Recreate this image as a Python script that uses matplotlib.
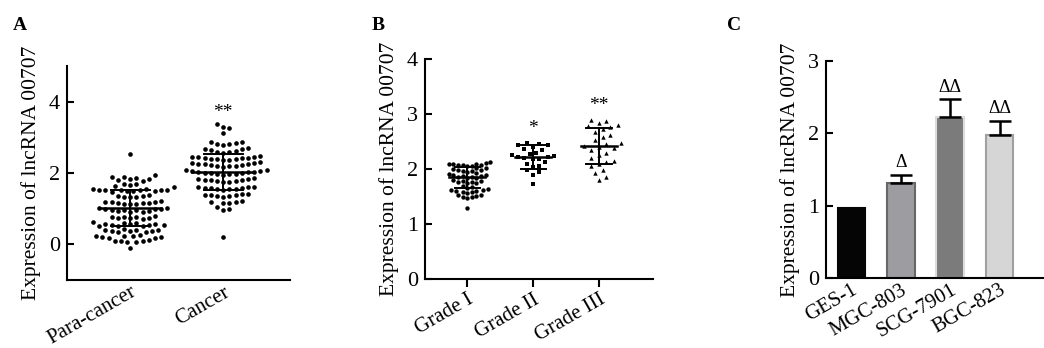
import numpy as np
import matplotlib
matplotlib.use("Agg")
import matplotlib.pyplot as plt

plt.rcParams["font.family"] = ["Liberation Serif", "DejaVu Serif"]

# ---- data ----
groups_a = ["Para-cancer", "Cancer"]
para = [2.54,
        1.93, 1.90, 1.88, 1.86, 1.84, 1.82, 1.80, 1.78,
        1.70, 1.68, 1.66, 1.64, 1.62,
        1.55, 1.54, 1.53, 1.53, 1.52, 1.52, 1.51, 1.51, 1.50, 1.50, 1.49, 1.48,
        1.38, 1.36, 1.35, 1.34, 1.33, 1.32,
        1.22, 1.20, 1.19, 1.18, 1.17, 1.16, 1.15, 1.14, 1.13, 1.12,
        1.02, 1.01, 1.00, 0.99, 0.98, 0.97, 0.96, 0.95, 0.94, 0.93, 0.92, 0.91,
        0.80, 0.78, 0.77, 0.76, 0.75, 0.74, 0.73, 0.72,
        0.62, 0.60, 0.59, 0.58, 0.57, 0.56, 0.55, 0.54, 0.53, 0.52, 0.51, 0.50,
        0.42, 0.41, 0.40, 0.39, 0.38, 0.37, 0.36, 0.35, 0.34,
        0.25, 0.24, 0.23, 0.22, 0.21, 0.20, 0.19, 0.18,
        0.12, 0.10, 0.09, 0.08, 0.07, 0.06,
        -0.09]
cancer = [3.37, 3.30, 3.25, 3.12,
          2.88, 2.86, 2.84, 2.82, 2.80, 2.78,
          2.70, 2.68, 2.66, 2.64, 2.62, 2.60, 2.58, 2.56,
          2.48, 2.46, 2.45, 2.44, 2.43, 2.42, 2.41, 2.40, 2.39, 2.38, 2.37, 2.36,
          2.30, 2.28, 2.27, 2.26, 2.25, 2.24, 2.23, 2.22, 2.21, 2.20, 2.19, 2.18,
          2.08, 2.07, 2.06, 2.05, 2.04, 2.03, 2.02, 2.01, 2.00, 1.99, 1.98, 1.97, 1.96, 1.95,
          1.85, 1.83, 1.82, 1.81, 1.80, 1.79, 1.78, 1.77, 1.76, 1.75,
          1.62, 1.61, 1.60, 1.59, 1.58, 1.57, 1.56, 1.55, 1.54, 1.53,
          1.42, 1.40, 1.39, 1.38, 1.37, 1.36, 1.35, 1.34,
          1.22, 1.20, 1.18, 1.16, 1.15,
          1.05, 0.98, 0.96,
          0.20]
mean_a = [1.01, 2.03]
sd_a = [0.50, 0.50]
sig_a = ["", "**"]

groups_b = ["Grade I", "Grade II", "Grade III"]
grade1 = [2.12, 2.11, 2.10, 2.10, 2.09, 2.08, 2.08, 2.07, 2.06, 2.05,
          2.02, 2.01, 2.00, 1.99, 1.98, 1.97, 1.96, 1.95,
          1.92, 1.91, 1.90, 1.89, 1.88, 1.87, 1.86, 1.85, 1.84, 1.83,
          1.80, 1.79, 1.78, 1.77, 1.76, 1.75, 1.74,
          1.70, 1.68, 1.66,
          1.63, 1.62, 1.61, 1.60, 1.60, 1.59, 1.58, 1.57,
          1.53, 1.52, 1.51, 1.50, 1.49, 1.48,
          1.30]
grade2 = [2.48, 2.46, 2.44, 2.43, 2.40, 2.37, 2.35, 2.30, 2.28, 2.26, 2.24, 2.22,
          2.21, 2.20, 2.19, 2.18, 2.12, 2.10, 2.06, 2.03, 1.98, 1.95, 1.90, 1.73]
grade3 = [2.90, 2.88, 2.84, 2.80, 2.78, 2.76, 2.72, 2.68, 2.62, 2.58, 2.52, 2.48,
          2.45, 2.42, 2.40, 2.38, 2.35, 2.30, 2.25, 2.20, 2.15, 2.12, 2.10, 2.05,
          1.98, 1.92, 1.85, 1.80]
mean_b = [1.85, 2.22, 2.42]
sd_b = [0.19, 0.22, 0.33]
sig_b = ["", "*", "**"]

cells = ["GES-1", "MGC-803", "SCG-7901", "BGC-823"]
cell_expr = [0.97, 1.32, 2.23, 1.98]
cell_err = [0.0, 0.11, 0.24, 0.19]
cell_sig = ["", "\u0394", "\u0394\u0394", "\u0394\u0394"]
bar_face = ["#050505", "#9c9ca1", "#7b7b7b", "#d6d6d6"]
bar_edge = ["#050505", "#676767", "#dcdcdc", "#a0a0a0"]

YLABEL = "Expression of lncRNA 00707"

fig = plt.figure(figsize=(10.44, 3.48), dpi=100)


def style(ax):
    for s in ["top", "right"]:
        ax.spines[s].set_visible(False)
    for s in ["left", "bottom"]:
        ax.spines[s].set_linewidth(1.5)
    ax.tick_params(axis="y", direction="in", width=1.5, length=5, labelsize=16, pad=5)
    ax.tick_params(axis="x", width=1.5, length=6, labelsize=15, pad=2)
    ax.set_ylabel(YLABEL, fontsize=15.5, labelpad=6)


def swarm(ax, vals, center, dot_px):
    # simple beeswarm: place each point at the nearest free horizontal offset
    pts = ax.transData.transform([(center, v) for v in vals])
    cx = pts[0, 0]
    placed = []
    step = dot_px * 0.5
    for _, py in pts:
        k = 0
        while True:
            off = ((k + 1) // 2) * step * (1 if k % 2 else -1) if k else 0.0
            x = cx + off
            if all((x - qx) ** 2 + (py - qy) ** 2 >= dot_px ** 2 for qx, qy in placed):
                break
            k += 1
        placed.append((x, py))
    return ax.transData.inverted().transform(placed)


def mean_sd(ax, x, m, sd, wmean, wsd):
    ax.plot([x - wmean / 2, x + wmean / 2], [m, m], color="black", lw=1.8, zorder=4)
    for y in (m - sd, m + sd):
        ax.plot([x - wsd / 2, x + wsd / 2], [y, y], color="black", lw=1.4, zorder=4)
    ax.plot([x, x], [m - sd, m + sd], color="black", lw=1.4, zorder=4)


# ---- panel A ----
ax1 = fig.add_axes([0.0642, 0.1954, 0.2136, 0.615])
style(ax1)
ax1.set_xlim(-0.68, 1.72)
ax1.set_ylim(-1, 5)
ax1.set_yticks([0, 2, 4])
ax1.set_xticks([0, 1])
ax1.tick_params(axis="x", length=0)
ax1.set_xticklabels(groups_a, rotation=30, ha="right", rotation_mode="anchor")
for i, vals in enumerate([para, cancer]):
    xy = swarm(ax1, sorted(vals), i, 6.2)
    ax1.scatter(xy[:, 0], xy[:, 1], s=11, color="black", lw=0, zorder=3)
    mean_sd(ax1, i, mean_a[i], sd_a[i], 0.66, 0.42)
    if sig_a[i]:
        ax1.text(i, max(vals) + 0.1, sig_a[i], ha="center", va="bottom", fontsize=14)

# ---- panel B ----
ax2 = fig.add_axes([0.4071, 0.1983, 0.2184, 0.632])
style(ax2)
ax2.set_xlim(-0.64, 2.82)
ax2.set_ylim(0, 4)
ax2.set_yticks([0, 1, 2, 3, 4])
ax2.set_xticks([0, 1, 2])
ax2.set_xticklabels(groups_b, rotation=30, ha="right", rotation_mode="anchor")
markers_b = ["o", "s", "^"]
dots_b = [4.6, 6.0, 7.5]
for i, vals in enumerate([grade1, grade2, grade3]):
    xy = swarm(ax2, sorted(vals), i, dots_b[i])
    ax2.scatter(xy[:, 0], xy[:, 1], s=10, marker=markers_b[i], color="black", lw=0, zorder=3)
    mean_sd(ax2, i, mean_b[i], sd_b[i], 0.55, 0.38)
    if sig_b[i]:
        ax2.text(i, max(vals) + 0.1, sig_b[i], ha="center", va="bottom", fontsize=14)

# ---- panel C ----
ax3 = fig.add_axes([0.7912, 0.2011, 0.2088, 0.6236])
style(ax3)
ax3.set_xlim(-0.52, 3.9)
ax3.set_ylim(0, 3)
ax3.set_yticks([0, 1, 2, 3])
x = np.arange(len(cells))
ax3.bar(x, cell_expr, width=0.56, color=bar_face, edgecolor=bar_edge, linewidth=1.5, zorder=2)
for i in range(len(cells)):
    if cell_err[i] > 0:
        ax3.errorbar(x[i], cell_expr[i], yerr=[[0], [cell_err[i]]], fmt="none",
                     ecolor="black", elinewidth=1.8, capsize=8, capthick=1.8, zorder=3)
    if cell_sig[i]:
        ax3.text(x[i], cell_expr[i] + cell_err[i] + 0.05, cell_sig[i], ha="center",
                 va="bottom", fontsize=13)
ax3.set_xticks(x)
ax3.tick_params(axis="x", length=0)
ax3.set_xticklabels(cells, rotation=30, ha="right", rotation_mode="anchor")

# panel letters
for lab, px in [("A", 13), ("B", 372), ("C", 727)]:
    fig.text(px / 1044, 1 - 30 / 348, lab, fontsize=14, fontweight="bold", ha="left", va="baseline")

fig.savefig("out.png", dpi=100)
